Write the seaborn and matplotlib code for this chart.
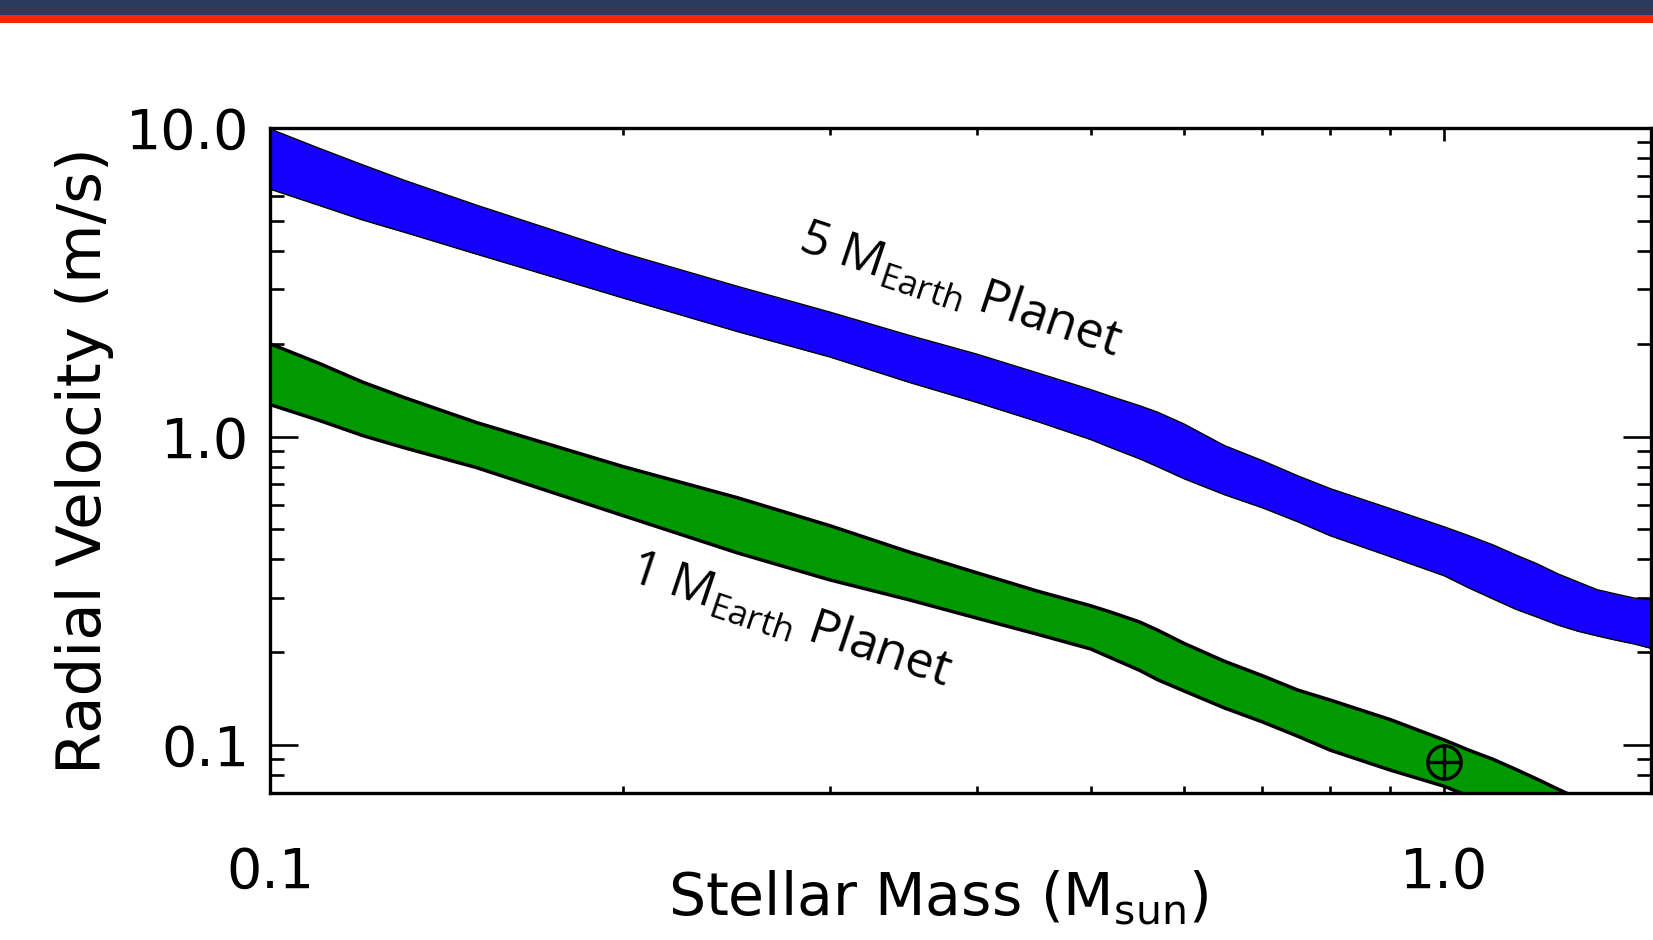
import numpy as np
import pandas as pd
import seaborn as sns
import matplotlib
matplotlib.use("Agg")
import matplotlib.pyplot as plt
from matplotlib.patches import Rectangle
from matplotlib.ticker import FixedLocator, FixedFormatter, NullFormatter, LogLocator

# stellar mass grid (M_sun)
stellar_mass = [0.1, 0.11, 0.12, 0.13, 0.15, 0.2, 0.25, 0.3, 0.35, 0.4, 0.45, 0.5,
                0.52, 0.55, 0.57, 0.6, 0.65, 0.7, 0.75, 0.8, 0.9, 1.0,
                1.05, 1.1, 1.15, 1.2, 1.25, 1.3, 1.35, 1.4, 1.45, 1.5]

# radial velocity band for a 5 earth-mass planet (m/s)
rv5_upper = [9.93, 8.61, 7.59, 6.78, 5.62, 3.93, 3.07, 2.53, 2.13, 1.85, 1.61, 1.42,
             1.35, 1.26, 1.20, 1.10, 0.935, 0.836, 0.747, 0.678, 0.584, 0.510,
             0.477, 0.446, 0.414, 0.387, 0.359, 0.338, 0.319, 0.309, 0.300, 0.296]
rv5_lower = [6.34, 5.62, 5.03, 4.60, 3.90, 2.81, 2.19, 1.81, 1.50, 1.29, 1.12, 0.978,
             0.921, 0.848, 0.799, 0.731, 0.648, 0.588, 0.530, 0.477, 0.408, 0.354,
             0.323, 0.298, 0.276, 0.260, 0.245, 0.234, 0.226, 0.219, 0.213, 0.206]

# radial velocity band for a 1 earth-mass planet (m/s)
rv1_upper = [2.00, 1.73, 1.50, 1.34, 1.11, 0.799, 0.634, 0.514, 0.423, 0.362, 0.316, 0.283,
             0.270, 0.251, 0.236, 0.214, 0.187, 0.168, 0.151, 0.140, 0.121, 0.104,
             0.0963, 0.0901, 0.0836, 0.0776, 0.0720, 0.0673, 0.0629, 0.0593, 0.0558, 0.053]
rv1_lower = [1.27, 1.13, 1.007, 0.921, 0.793, 0.554, 0.420, 0.343, 0.296, 0.258, 0.229, 0.205,
             0.192, 0.175, 0.163, 0.150, 0.132, 0.119, 0.107, 0.0963, 0.0830, 0.0736,
             0.0683, 0.0634, 0.0597, 0.0562, 0.053, 0.0506, 0.0488, 0.047, 0.0456, 0.0443]

# the Earth / Sun point
earth_mass_star = [1.0]
earth_rv = [0.088]

x_ticks = [0.1, 1.0]
x_tick_labels = ["0.1", "1.0"]
y_ticks = [0.1, 1.0, 10.0]
y_tick_labels = ["0.1", "1.0", "10.0"]

df = pd.DataFrame({"mass": stellar_mass,
                   "rv5_up": rv5_upper, "rv5_lo": rv5_lower,
                   "rv1_up": rv1_upper, "rv1_lo": rv1_lower})

sns.set_style("white")
plt.rcParams["font.family"] = ["DejaVu Sans"]
plt.rcParams["text.color"] = "black"
plt.rcParams["axes.labelcolor"] = "black"
plt.rcParams["xtick.color"] = "black"
plt.rcParams["ytick.color"] = "black"

fig = plt.figure(figsize=(16.53, 9.40), dpi=100)
ax = fig.add_axes([270 / 1653, 1 - 793 / 940, 1381 / 1653, 665 / 940])

# bands
ax.fill_between(df["mass"], df["rv5_lo"], df["rv5_up"], color="#1500ff", lw=0, zorder=1)
ax.fill_between(df["mass"], df["rv1_lo"], df["rv1_up"], color="#009a00", lw=0, zorder=1)
for col, lw in [("rv5_up", 1.0), ("rv5_lo", 1.0), ("rv1_up", 2.5), ("rv1_lo", 2.5)]:
    sns.lineplot(data=df, x="mass", y=col, color="black", lw=lw, ax=ax, zorder=2)

# earth symbol
ax.plot(earth_mass_star, earth_rv, marker="o", ms=24, mfc="none", mec="black", mew=2.4,
        ls="none", zorder=3)
ax.plot(earth_mass_star, earth_rv, marker="+", ms=24, mec="black", mew=2.4, ls="none", zorder=3)

ax.set_xscale("log")
ax.set_yscale("log")
ax.set_xlim(0.1, 1.5)
ax.set_ylim(0.07, 10.0)

ax.xaxis.set_major_locator(FixedLocator(x_ticks))
ax.xaxis.set_major_formatter(FixedFormatter(x_tick_labels))
ax.xaxis.set_minor_locator(FixedLocator([0.2, 0.3, 0.4, 0.5, 0.6, 0.7, 0.8, 0.9]))
ax.xaxis.set_minor_formatter(NullFormatter())
ax.yaxis.set_major_locator(FixedLocator(y_ticks))
ax.yaxis.set_major_formatter(FixedFormatter(y_tick_labels))
ax.yaxis.set_minor_locator(LogLocator(base=10, subs=np.arange(2, 10), numticks=20))
ax.yaxis.set_minor_formatter(NullFormatter())

ax.tick_params(which="both", direction="in", top=True, right=True, left=True, bottom=True,
               width=1.9, colors="black", labelsize=40)
ax.tick_params(axis="x", which="major", length=9.5, pad=38)
ax.tick_params(axis="x", which="minor", length=4.7)
ax.tick_params(axis="y", which="major", length=20, pad=15)
ax.tick_params(axis="y", which="minor", length=10)
for s in ax.spines.values():
    s.set_linewidth(2.4)
    s.set_color("black")

ax.set_xlabel(r"Stellar Mass (M$_{\mathregular{sun}}$)", fontsize=42)
ax.set_ylabel("Radial Velocity (m/s)", fontsize=44)
ax.xaxis.set_label_coords(0.484, -0.113)
ax.yaxis.set_label_coords(-0.113, 0.5)

# band labels
ax.text(0.387, 2.96, r"5 M$_{\mathregular{Earth}}$ Planet", fontsize=36, family="Open Sans",
        rotation=-18.5, ha="center", va="center")
ax.text(0.277, 0.251, r"1 M$_{\mathregular{Earth}}$ Planet", fontsize=36, family="Open Sans",
        rotation=-18.5, ha="center", va="center")

# header banner
fig.add_artist(Rectangle((0, 1 - 15 / 940), 1, 15 / 940, transform=fig.transFigure,
                         color="#2c3b5d", lw=0))
fig.add_artist(Rectangle((0, 1 - 23 / 940), 1, 8 / 940, transform=fig.transFigure,
                         color="#ff2400", lw=0))

fig.savefig("out.png", dpi=100)
